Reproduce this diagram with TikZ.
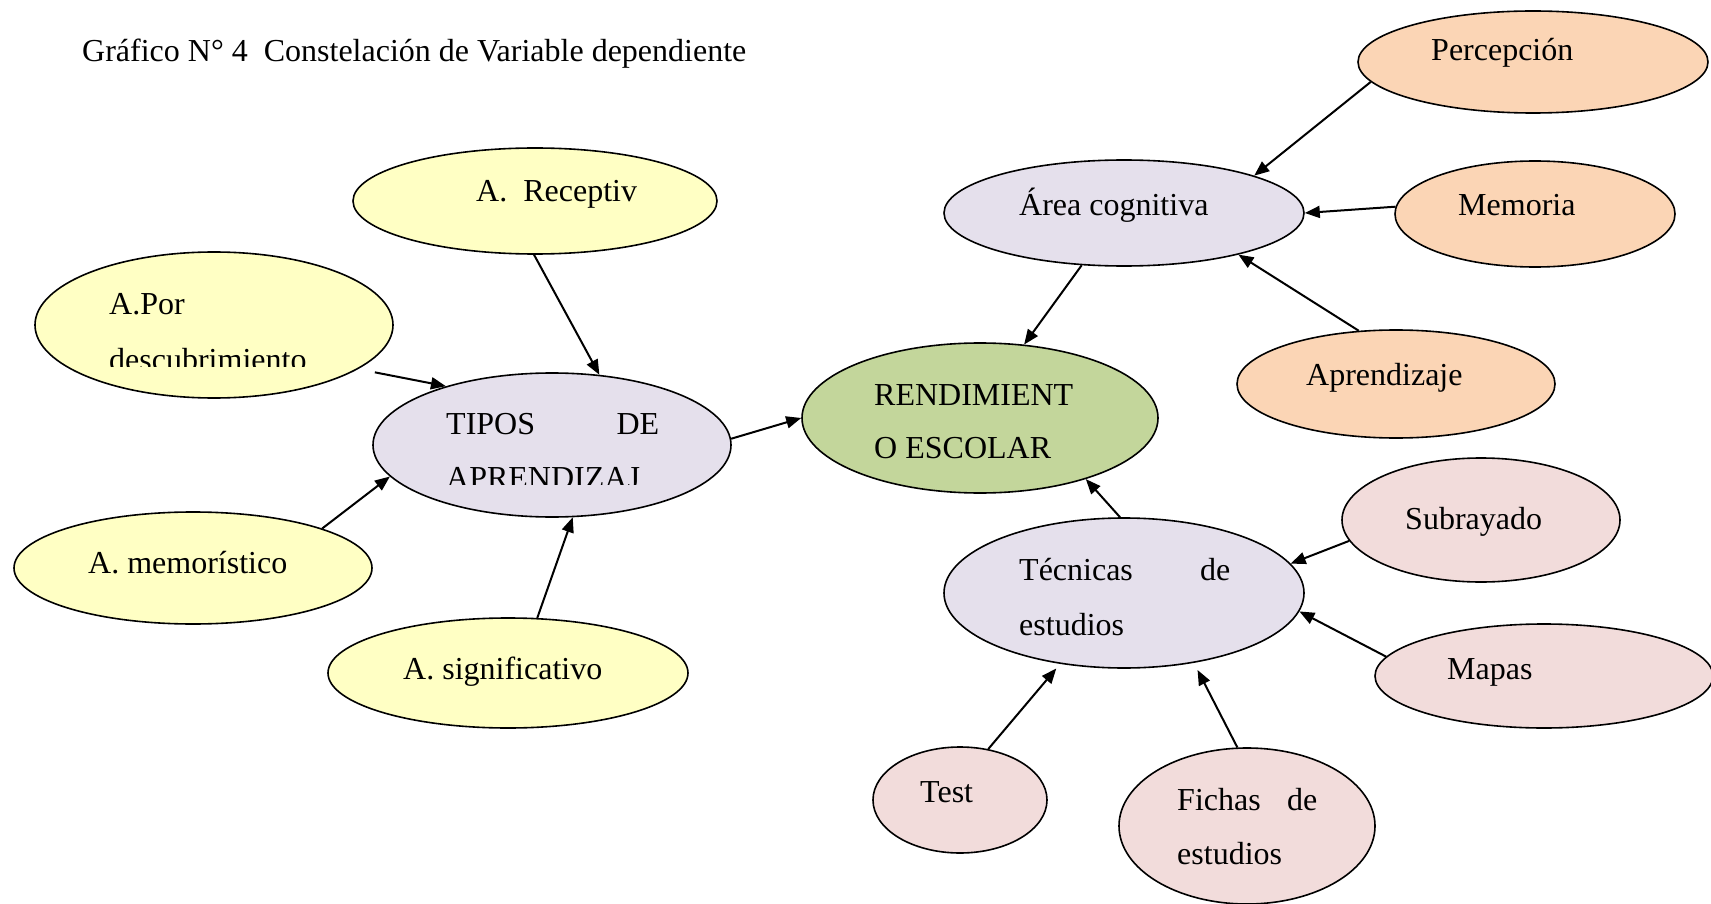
\documentclass[tikz,border=0pt]{standalone}
\usepackage{fontspec}
\setmainfont{Liberation Serif}
\usetikzlibrary{shapes.geometric, arrows.meta}
\definecolor{yelfill}{HTML}{FFFFC4}
\definecolor{lavfill}{HTML}{E5E0EC}
\definecolor{grnfill}{HTML}{C3D69B}
\definecolor{pchfill}{HTML}{FBD5B5}
\definecolor{pnkfill}{HTML}{F2DCDB}

\begin{document}
\begin{tikzpicture}[
    x=1pt, y=-1pt,
    every node/.style={font=\fontsize{32}{38}\selectfont},
    bubble/.style={ellipse, draw, line width=1.6pt, inner sep=0pt},
    yel/.style={bubble, fill=yelfill},
    lav/.style={bubble, fill=lavfill},
    grn/.style={bubble, fill=grnfill},
    pch/.style={bubble, fill=pchfill},
    pnk/.style={bubble, fill=pnkfill},
    txt/.style={anchor=base west, inner sep=0pt},
    arrow/.style={-{Triangle[length=15pt,width=12pt]}, line width=2pt}
]
\useasboundingbox (0,0) rectangle (1711,904);

    % Title
    \node[txt] (title) at (82,62) {Gráfico N° 4~~Constelación de Variable dependiente};

    % Centre
    \node[grn, minimum width=356pt, minimum height=150pt] (rend) at (980,418) {};
    \node[txt] (rend1) at (874,405) {RENDIMIENT};
    \node[txt] (rend2) at (874,458) {O ESCOLAR};

    % Tipos de aprendizaje and its ellipses
    \node[lav, minimum width=358pt, minimum height=144pt] (tipos) at (552,445) {};
    \node[yel, minimum width=364pt, minimum height=106pt] (recep) at (535,201) {};
    \node[yel, minimum width=358pt, minimum height=146pt] (desc) at (214,325) {};
    \node[yel, minimum width=358pt, minimum height=112pt] (memo) at (193,568) {};
    \node[yel, minimum width=360pt, minimum height=110pt] (sig) at (508,673) {};

    \node[txt] (tipos1) at (446,434) {\makebox[213pt][l]{TIPOS\hfill DE}};
    \begin{scope}
        \clip (300,440) rectangle (800,484);
        \node[txt] (tipos2) at (446,488) {APRENDIZAJ};
    \end{scope}
    \node[txt] (recept) at (476,202) {A.~~Receptiv};
    \node[txt] (desc1) at (109,314) {A.Por};
    \begin{scope}
        \clip (0,330) rectangle (400,366);
        \node[txt] (desc2) at (109,370) {descubrimiento};
    \end{scope}
    \node[txt] (memot) at (88,573) {A. memorístico};
    \node[txt] (sigt) at (403,679) {A. significativo};

    % Area cognitiva and its ellipses
    \node[lav, minimum width=360pt, minimum height=106pt] (area) at (1124,213) {};
    \node[pch, minimum width=350pt, minimum height=102pt] (perc) at (1533,62) {};
    \node[pch, minimum width=280pt, minimum height=106pt] (mem) at (1535,214) {};
    \node[pch, minimum width=318pt, minimum height=108pt] (apr) at (1396,384) {};

    \node[txt] (areat) at (1019,216) {Área cognitiva};
    \node[txt] (perct) at (1431,61) {Percepción};
    \node[txt] (memt) at (1458,216) {Memoria};
    \node[txt] (aprt) at (1306,385) {Aprendizaje};

    % Tecnicas de estudios and its ellipses
    \node[lav, minimum width=360pt, minimum height=150pt] (tec) at (1124,593) {};
    \node[pnk, minimum width=278pt, minimum height=124pt] (sub) at (1481,520) {};
    \node[pnk, minimum width=338pt, minimum height=104pt] (mapas) at (1544,676) {};
    \node[pnk, minimum width=174pt, minimum height=106pt] (test) at (960,800) {};
    \node[pnk, minimum width=256pt, minimum height=156pt] (fich) at (1247,826) {};

    \node[txt] (tec1) at (1019,580) {\makebox[211pt][l]{Técnicas\hfill de}};
    \node[txt] (tec2) at (1019,635) {estudios};
    \node[txt] (subt) at (1405,529) {Subrayado};
    \node[txt] (mapast) at (1447,679) {Mapas};
    \node[txt] (testt) at (920,802) {Test};
    \node[txt] (fich1) at (1177,810) {\makebox[140pt][l]{Fichas\hfill de}};
    \node[txt] (fich2) at (1177,864) {estudios};

    % Arrows into the centre
    \foreach \a/\b in {area.231/rend.59, tipos.2/rend.180, tec.93/rend.-30} {
        \draw[arrow] (\a) -- (\b);
    }

    % Arrows into the three middle ellipses
    \foreach \a/\b in {recep.269/tipos.56, memo.17/tipos.191, sig.62/tipos.-74,
                       perc.187/area.16, mem.177/area.0, apr.125/area.-20,
                       sub.189/tec.10, mapas.173/tec.-6} {
        \draw[arrow] (\a) -- (\b);
    }
    \draw[arrow, shorten <=17pt] (desc.-17) -- (tipos.151);
    \draw[arrow, shorten >=6pt] (test.61) -- (tec.228);
    \draw[arrow, shorten >=8pt] (fich.97) -- (tec.-45);

\end{tikzpicture}
\end{document}
